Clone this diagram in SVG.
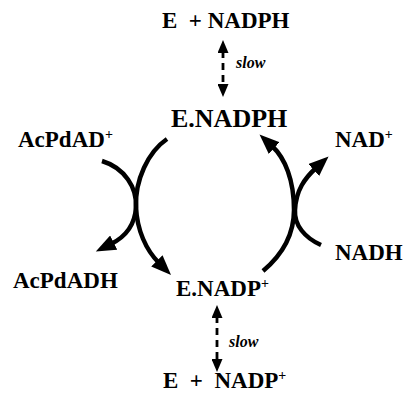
<svg xmlns="http://www.w3.org/2000/svg" width="404" height="399" viewBox="0 0 404 399">
<style>
.t{font-family:"Liberation Serif","Times New Roman",serif;font-weight:bold;font-size:23px;fill:#000}
.s{font-family:"Liberation Serif","Times New Roman",serif;font-weight:bold;font-style:italic;font-size:16px;fill:#000}
.sup{font-size:14px}
.arc{fill:none;stroke:#000;stroke-width:4.5}
.dash{fill:none;stroke:#000;stroke-width:2.8;stroke-dasharray:7 5}
</style>
<defs>
<marker id="ah" markerUnits="userSpaceOnUse" markerWidth="22" markerHeight="16" viewBox="0 0 22 16" refX="3" refY="8" orient="auto">
<path d="M0,0 L20,8 L0,16 Z" fill="#000"/>
</marker>
<marker id="dh" markerUnits="userSpaceOnUse" markerWidth="14" markerHeight="11" viewBox="0 0 14 11" refX="2" refY="5.5" orient="auto-start-reverse">
<path d="M0,0 L13,5.5 L0,11 Z" fill="#000"/>
</marker>
</defs>
<g id="connectors">
<path class="dash" d="M223,51 L223,86" marker-start="url(#dh)" marker-end="url(#dh)"/>
<path class="dash" d="M217,316 L217,361" marker-start="url(#dh)" marker-end="url(#dh)"/>
<path class="arc" d="M102,161 C125,168 137,188 136,207 C135,225 125,237 111,244" marker-end="url(#ah)"/>
<path class="arc" d="M167,139 C148,152 135,180 136,207 C137,230 146,250 159,263" marker-end="url(#ah)"/>
<path class="arc" d="M263,271 C282,255 294,235 294,210 C294,180 285,158 272,146" marker-end="url(#ah)"/>
<path class="arc" d="M321,245 C305,238 294,225 295,210 C296,190 305,178 316,168" marker-end="url(#ah)"/>
</g>
<g id="E_NADPH_free"><text class="t" x="162" y="28" xml:space="preserve">E  + NADPH</text></g>
<g id="slow_top"><text class="s" x="236" y="68">slow</text></g>
<g id="E_NADPH"><text class="t" x="171" y="127" style="font-size:26px">E.NADPH</text></g>
<g id="AcPdAD"><text class="t" x="18" y="147">AcPdAD<tspan class="sup" dy="-8">+</tspan></text></g>
<g id="NAD"><text class="t" x="335" y="147">NAD<tspan class="sup" dy="-8">+</tspan></text></g>
<g id="AcPdADH"><text class="t" x="13" y="288">AcPdADH</text></g>
<g id="NADH"><text class="t" x="335" y="260">NADH</text></g>
<g id="E_NADP"><text class="t" x="176" y="296">E.NADP<tspan class="sup" dy="-8">+</tspan></text></g>
<g id="slow_bottom"><text class="s" x="229" y="347">slow</text></g>
<g id="E_NADP_free"><text class="t" x="163" y="388" xml:space="preserve">E  +  NADP<tspan class="sup" dy="-8">+</tspan></text></g>
</svg>
